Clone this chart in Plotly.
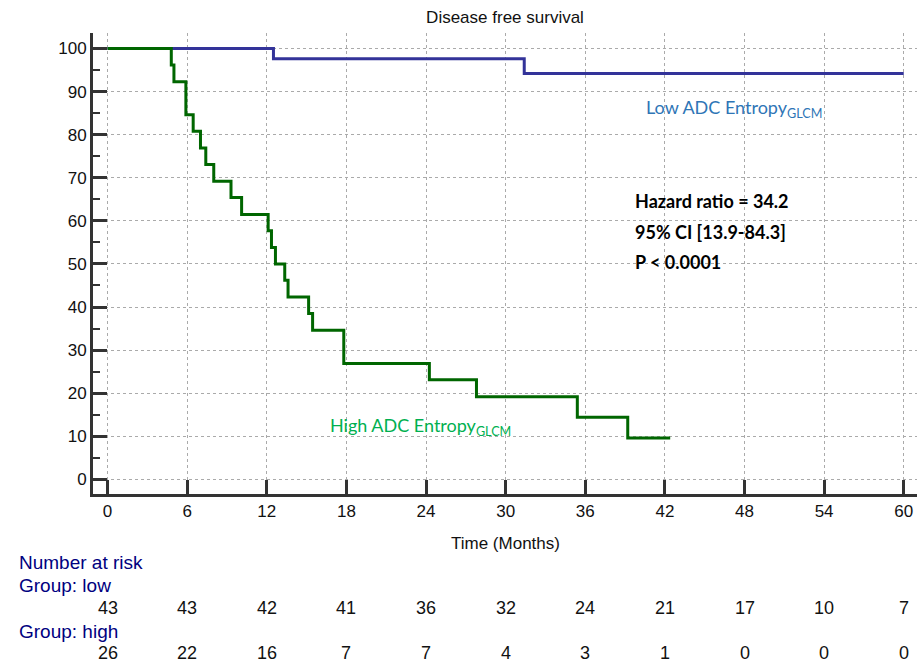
import plotly.graph_objects as go

# ---- data ----
low_time = [0, 12.5, 31.4, 60]
low_surv = [100, 97.6, 94.2, 94.2]

high_time = [0, 4.8, 5.0, 5.9, 6.45, 7.0, 7.4, 8.0, 9.3, 10.1, 12.1, 12.35, 12.65,
             13.35, 13.6, 15.15, 15.45, 17.8, 24.25, 27.8, 35.4, 39.2, 42.4]
high_surv = [100, 96.2, 92.3, 84.6, 80.8, 76.9, 73.1, 69.2, 65.4, 61.5, 57.7, 53.8, 50.0,
             46.2, 42.3, 38.5, 34.6, 26.9, 23.1, 19.2, 14.4, 9.6, 9.6]

risk_times = [0, 6, 12, 18, 24, 30, 36, 42, 48, 54, 60]
risk_low = [43, 43, 42, 41, 36, 32, 24, 21, 17, 10, 7]
risk_high = [26, 22, 16, 7, 7, 4, 3, 1, 0, 0, 0]

x_ticks = list(range(0, 61, 6))
y_ticks = list(range(0, 101, 10))

stats_lines = ["Hazard ratio = 34.2", "95% CI [13.9-84.3]", "P < 0.0001"]

# ---- figure ----
fig = go.Figure()
fig.add_trace(go.Scatter(x=low_time, y=low_surv, mode="lines", line_shape="hv",
                         line=dict(color="#333399", width=3), showlegend=False))
fig.add_trace(go.Scatter(x=high_time, y=high_surv, mode="lines", line_shape="hv",
                         line=dict(color="#006600", width=3), showlegend=False))

axis_font = dict(family="Liberation Sans, Arial, sans-serif", size=17, color="#111")

fig.update_layout(
    width=917, height=665,
    margin=dict(l=93, r=0, t=33, b=171),
    paper_bgcolor="white", plot_bgcolor="white",
    title=dict(text="Disease free survival", x=0.5, xref="paper", xanchor="center",
               y=1 - 17 / 665, yref="container", yanchor="middle",
               font=dict(family="Liberation Sans, Arial, sans-serif", size=17, color="#111")),
    xaxis=dict(range=[-1.1, 61.0], tickvals=x_ticks, ticks="inside", ticklen=14,
               tickwidth=3, tickcolor="#333", showline=True, linewidth=3, linecolor="#333",
               showgrid=True, gridcolor="#aaa", griddash="dot", gridwidth=1,
               zeroline=False, tickfont=axis_font),
    yaxis=dict(range=[-3.4, 103.6], tickvals=y_ticks, ticks="inside", ticklen=14,
               tickwidth=3, tickcolor="#333", showline=True, linewidth=3, linecolor="#333",
               showgrid=True, gridcolor="#aaa", griddash="dot", gridwidth=1,
               zeroline=False, tickfont=axis_font,
               minor=dict(dtick=5, tick0=0, ticks="inside", ticklen=7, tickwidth=2,
                          tickcolor="#333", showgrid=False)),
)

# x-axis title
fig.add_annotation(text="Time (Months)", xref="paper", yref="paper", x=0.5, y=(494 - 543) / 461,
                   xanchor="center", yanchor="middle", showarrow=False, font=axis_font)

# curve labels
label_font = "Lato, Open Sans, sans-serif"
fig.add_annotation(text="Low ADC Entropy<sub>GLCM</sub>", x=40.4, y=86.1, xref="x", yref="y",
                   xanchor="left", yanchor="middle", showarrow=False,
                   font=dict(family=label_font, size=18, color="#2e75b6"))
fig.add_annotation(text="High ADC Entropy<sub>GLCM</sub>", x=16.6, y=12.3, xref="x", yref="y",
                   xanchor="left", yanchor="middle", showarrow=False,
                   font=dict(family=label_font, size=18, color="#00b050"))

# stats
for line, yv in zip(stats_lines, [64.5, 57.3, 50.4]):
    fig.add_annotation(text="<b>" + line + "</b>", x=39.6, y=yv, xref="x", yref="y",
                       xanchor="left", yanchor="middle", showarrow=False,
                       font=dict(family=label_font, size=18, color="black"))

# number at risk table
tab_font = dict(family="Liberation Sans, Arial, sans-serif", size=19, color="#000080")
num_font = dict(family="Liberation Sans, Arial, sans-serif", size=18, color="#111")


def py(p):
    return (494 - p) / 461


for txt, ypix in [("Number at risk", 562), ("Group: low", 585), ("Group: high", 631)]:
    fig.add_annotation(text=txt, xref="paper", yref="paper", x=(17 - 93) / 824, y=py(ypix),
                       xanchor="left", yanchor="middle", showarrow=False, font=tab_font)

for t, n in zip(risk_times, risk_low):
    fig.add_annotation(text=str(n), xref="x", yref="paper", x=t, y=py(608),
                       xanchor="center", yanchor="middle", showarrow=False, font=num_font)
for t, n in zip(risk_times, risk_high):
    fig.add_annotation(text=str(n), xref="x", yref="paper", x=t, y=py(653),
                       xanchor="center", yanchor="middle", showarrow=False, font=num_font)

fig.write_html("out.html")
